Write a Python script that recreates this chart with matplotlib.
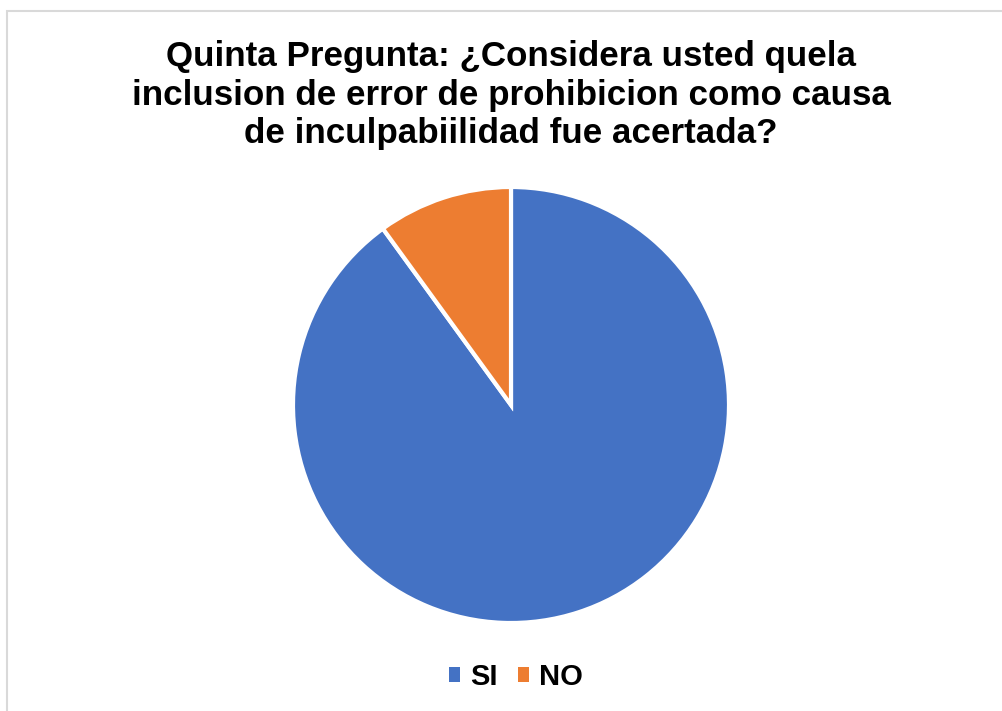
import matplotlib
matplotlib.use("Agg")
import matplotlib.pyplot as plt
from matplotlib.patches import Rectangle

labels = ["SI", "NO"]
values = [90, 10]
colors = ["#4472C4", "#ED7D31"]
title = "Quinta Pregunta: ¿Considera usted quela\ninclusion de error de prohibicion como causa\nde inculpabiilidad fue acertada?"

plt.rcParams['font.family'] = ['Liberation Sans', 'DejaVu Sans']
W, H = 1002, 711
fig = plt.figure(figsize=(W/100, H/100), dpi=100)
fig.patch.set_facecolor("white")

fig.patches.append(Rectangle((7/W, -0.1), 1.2, (H - 11)/H + 0.1, transform=fig.transFigure,
                             fill=False, edgecolor="#D9D9D9", linewidth=1.5))

cx, cy, r = 511, 405, 218
ax = fig.add_axes([(cx - r)/W, (H - cy - r)/H, 2*r/W, 2*r/H])
wedges, _ = ax.pie(values, colors=colors, startangle=90, counterclock=False, radius=1,
                   wedgeprops=dict(edgecolor="white", linewidth=3))
ax.set_xlim(-1.0, 1.0)
ax.set_ylim(-1.0, 1.0)
ax.set_aspect("equal")
ax.axis("off")

fig.text(511/W, 1 - 95/H, title, ha="center", va="center", fontsize=25.2, fontweight="bold",
         linespacing=1.2)

leg = fig.legend(wedges, labels, loc="center", bbox_to_anchor=(516/W, 1 - 677/H), ncol=2,
                 frameon=False, prop=dict(size=21, weight="bold"), handlelength=0.38,
                 handleheight=0.38, handletextpad=0.35, columnspacing=0.7)
for h in leg.legend_handles:
    h.set_linewidth(0)

fig.savefig("out.png", dpi=100, facecolor="white")
